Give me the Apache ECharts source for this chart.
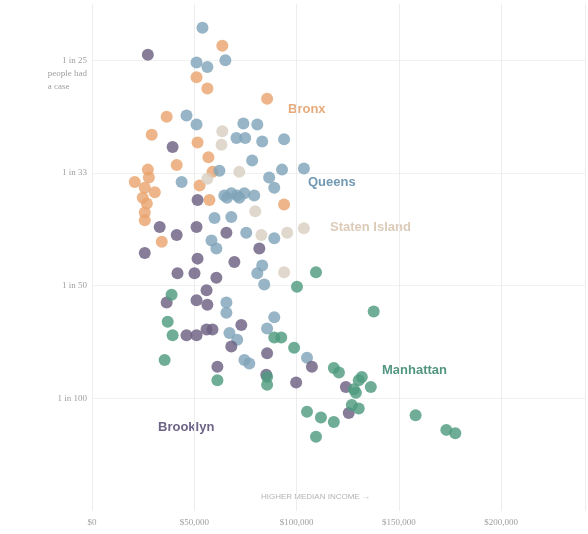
<!DOCTYPE html>
<html>
<head>
<meta charset="utf-8">
<script src="https://cdn.jsdelivr.net/npm/echarts@6/dist/echarts.min.js"></script>
<style>
  html, body { margin: 0; padding: 0; background: #fff; }
  #chart { width: 588px; height: 534px; }
</style>
</head>
<body>
<div id="chart"></div>
<script>
// [median income in $1000s, share of people with a case in %]
var bronx = [[63.7,4.13],[51.1,3.85],[56.4,3.75],[85.6,3.66],[36.5,3.50],[29.2,3.34],[51.6,3.27],[56.9,3.14],[41.4,3.07],[27.3,3.03],[20.9,2.92],[25.8,2.87],[30.7,2.83],[26.8,2.73],[25.8,2.65],[25.8,2.58],[52.6,2.89],[57.4,2.76],[93.9,2.72],[34.1,2.39],[58.9,3.01],[27.8,2.96],[24.8,2.78]];
var statenIsland = [[63.7,3.37],[63.3,3.25],[72.0,3.01],[79.8,2.66],[95.4,2.47],[103.6,2.51],[93.9,2.12],[56.4,2.95],[82.8,2.45]];
var queens = [[54.0,4.29],[51.1,3.98],[56.4,3.94],[65.2,4.00],[46.2,3.51],[51.1,3.43],[74.0,3.44],[80.8,3.43],[70.6,3.31],[74.9,3.31],[83.2,3.28],[93.9,3.30],[78.3,3.11],[103.6,3.04],[92.9,3.03],[86.6,2.96],[89.1,2.87],[62.3,3.02],[43.8,2.92],[64.7,2.80],[68.1,2.82],[71.0,2.80],[74.5,2.82],[79.3,2.80],[68.1,2.61],[59.9,2.60],[75.4,2.47],[89.1,2.42],[58.4,2.40],[60.8,2.33],[65.7,1.85],[65.7,1.76],[67.2,1.58],[71.0,1.52],[89.1,1.72],[85.6,1.62],[74.5,1.34],[76.9,1.31],[105.1,1.36],[80.8,2.11],[84.2,2.01],[83.2,2.18],[72.0,2.78],[66.0,2.78]];
var brooklyn = [[27.3,4.05],[39.4,3.23],[51.6,2.76],[33.1,2.52],[41.4,2.45],[51.1,2.52],[65.7,2.47],[81.8,2.33],[25.8,2.29],[51.6,2.24],[69.6,2.21],[41.8,2.11],[50.1,2.11],[60.8,2.07],[56.0,1.96],[36.5,1.85],[51.1,1.87],[56.4,1.83],[46.2,1.56],[51.1,1.56],[56.0,1.61],[58.9,1.61],[73.0,1.65],[68.1,1.46],[85.6,1.40],[61.3,1.28],[99.8,1.14],[107.5,1.28],[124.1,1.10],[125.5,0.87],[85.2,1.21]];
var manhattan = [[35.5,1.34],[61.3,1.16],[85.6,1.12],[38.9,1.92],[37.0,1.68],[39.4,1.56],[98.8,1.45],[100.2,1.99],[109.5,2.12],[137.7,1.77],[89.1,1.54],[92.5,1.54],[118.2,1.27],[131.9,1.19],[136.3,1.10],[129.0,1.05],[127.0,0.94],[130.4,0.91],[105.1,0.88],[111.9,0.83],[118.2,0.79],[109.5,0.66],[158.2,0.85],[173.2,0.72],[177.6,0.69],[120.7,1.23],[128.0,1.08],[130.4,1.16],[85.6,1.19]];

var xTicks = ['$0', '$50,000', '$100,000', '$150,000', '$200,000'];
var yTicks = {1: '1 in 100', 2: '1 in 50', 3: '1 in 33', 4: '1 in 25'};

var colors = {
  bronx: '#e9a56f',
  staten: '#dacfc2',
  queens: '#80a5b9',
  brooklyn: '#6e6082',
  manhattan: '#4f9b80'
};

function dots(name, data, color) {
  return {
    name: name,
    type: 'scatter',
    data: data,
    symbolSize: 12,
    itemStyle: { color: color, opacity: 0.82 },
    silent: true
  };
}

function label(text, x, y, color) {
  return {
    type: 'text', left: x, top: y,
    style: { text: text, fill: color, font: 'bold 13px "Liberation Sans", Arial, sans-serif' }
  };
}

var chart = echarts.init(document.getElementById('chart'));
chart.setOption({
  animation: false,
  grid: { left: 92, right: 0, top: 4, bottom: 23 },
  xAxis: {
    type: 'value',
    min: 0, max: 241, interval: 50,
    axisLine: { show: false },
    axisTick: { show: false },
    axisLabel: {
      color: '#a0a0a0', fontSize: 9, margin: 7,
      fontFamily: '"Liberation Serif", serif',
      formatter: function (v) { return xTicks[v / 50] || ''; }
    },
    splitLine: { show: true, lineStyle: { color: '#ededed', width: 1 } }
  },
  yAxis: {
    type: 'value',
    min: 0, max: 4.5, interval: 1,
    axisLine: { show: false },
    axisTick: { show: false },
    axisLabel: {
      color: '#a0a0a0', fontSize: 9, margin: 5,
      fontFamily: '"Liberation Serif", serif',
      formatter: function (v) { return yTicks[v] || ''; }
    },
    splitLine: {
      show: true,
      lineStyle: { color: ['transparent', '#f1f1f1', '#f1f1f1', '#f1f1f1', '#f1f1f1', 'transparent'] }
    }
  },
  graphic: [
    {
      type: 'text', right: 501, top: 67,
      style: {
        text: 'people had\na case', fill: '#a0a0a0', align: 'right', lineHeight: 13,
        font: '9px "Liberation Serif", serif'
      }
    },
    {
      type: 'text', left: 261, top: 493,
      style: { text: 'HIGHER MEDIAN INCOME \u2192', fill: '#b3b3b3', font: '8px "Liberation Sans", sans-serif' }
    },
    label('Bronx', 288, 103, '#e6ab7c'),
    label('Queens', 308, 176, '#7199b2'),
    label('Staten Island', 330, 221, '#dccbb9'),
    label('Manhattan', 382, 364, '#529681'),
    label('Brooklyn', 158, 421, '#6e6589')
  ],
  series: [
    dots('Bronx', bronx, colors.bronx),
    dots('Staten Island', statenIsland, colors.staten),
    dots('Queens', queens, colors.queens),
    dots('Brooklyn', brooklyn, colors.brooklyn),
    dots('Manhattan', manhattan, colors.manhattan)
  ]
});
</script>
</body>
</html>
